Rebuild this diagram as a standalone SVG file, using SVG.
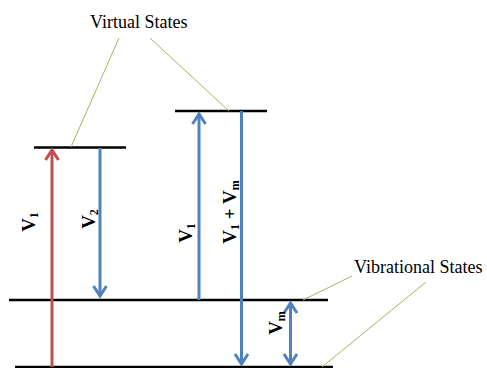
<svg xmlns="http://www.w3.org/2000/svg" width="487" height="368" viewBox="0 0 487 368">
  <style>
    .level { stroke: #000; stroke-width: 2.5; fill: none; }
    .lead { stroke: #9bbb59; stroke-width: 1; fill: none; }
    .red { stroke: #c0504d; stroke-width: 3; fill: none; }
    .blue { stroke: #4f81bd; stroke-width: 3; fill: none; }
    text { font-family: 'Liberation Serif', 'DejaVu Serif', serif; fill: #000; }
    .title { font-size: 18px; }
    .lbl { font-size: 19px; font-weight: bold; text-anchor: middle; }
    .sub { font-size: 12px; }
  </style>
  <defs>
    <marker id="headRed" markerUnits="userSpaceOnUse" markerWidth="20" markerHeight="20" viewBox="-12 -10 14 20" refX="0" refY="0" orient="auto-start-reverse">
      <path d="M-10,-6.5 L0,0 L-10,6.5" stroke="#c0504d" stroke-width="3" fill="none"/>
    </marker>
    <marker id="headBlue" markerUnits="userSpaceOnUse" markerWidth="20" markerHeight="20" viewBox="-12 -10 14 20" refX="0" refY="0" orient="auto-start-reverse">
      <path d="M-10,-6.5 L0,0 L-10,6.5" stroke="#4f81bd" stroke-width="3" fill="none"/>
    </marker>
  </defs>

  <!-- energy levels -->
  <g id="virtual-state-1"><line class="level" x1="34" y1="147.5" x2="126" y2="147.5"/></g>
  <g id="virtual-state-2"><line class="level" x1="175" y1="111" x2="267" y2="111"/></g>
  <g id="vibrational-state-1"><line class="level" x1="9" y1="300" x2="328" y2="300"/></g>
  <g id="ground-state"><line class="level" x1="15" y1="367" x2="333" y2="367"/></g>

  <!-- callout labels -->
  <g id="virtual-states-label">
    <text class="title" x="90" y="28" font-family="Liberation Serif, serif">Virtual States</text>
    <line class="lead" x1="119" y1="38" x2="71" y2="147"/>
    <line class="lead" x1="150" y1="38" x2="229" y2="111"/>
  </g>
  <g id="vibrational-states-label">
    <text class="title" x="354" y="273" font-family="Liberation Serif, serif">Vibrational States</text>
    <line class="lead" x1="352" y1="276" x2="303" y2="300"/>
    <line class="lead" x1="426" y1="282" x2="322" y2="367"/>
  </g>

  <!-- transitions -->
  <g id="connectors">
    <line class="red" x1="52" y1="367" x2="52" y2="150" marker-end="url(#headRed)"/>
    <line class="blue" x1="100" y1="148" x2="100" y2="296" marker-end="url(#headBlue)"/>
    <line class="blue" x1="199" y1="300" x2="199" y2="114" marker-end="url(#headBlue)"/>
    <line class="blue" x1="241.5" y1="111" x2="241.5" y2="364" marker-end="url(#headBlue)"/>
    <line class="blue" x1="290.5" y1="303" x2="290.5" y2="364" marker-start="url(#headBlue)" marker-end="url(#headBlue)"/>
  </g>

  <!-- transition labels -->
  <g id="label-v1-left"><text class="lbl" transform="translate(34.5,222) rotate(-90)">V<tspan class="sub" dy="3">1</tspan></text></g>
  <g id="label-v2"><text class="lbl" transform="translate(95,219) rotate(-90)">V<tspan class="sub" dy="3">2</tspan></text></g>
  <g id="label-v1-mid"><text class="lbl" transform="translate(192,233) rotate(-90)">V<tspan class="sub" dy="3">1</tspan></text></g>
  <g id="label-v1-vm"><text class="lbl" transform="translate(236,212) rotate(-90)">V<tspan class="sub" dy="3">1</tspan><tspan dy="-3"> + V</tspan><tspan class="sub" dy="3">m</tspan></text></g>
  <g id="label-vm"><text class="lbl" transform="translate(282,323) rotate(-90)">V<tspan class="sub" dy="3">m</tspan></text></g>
</svg>
